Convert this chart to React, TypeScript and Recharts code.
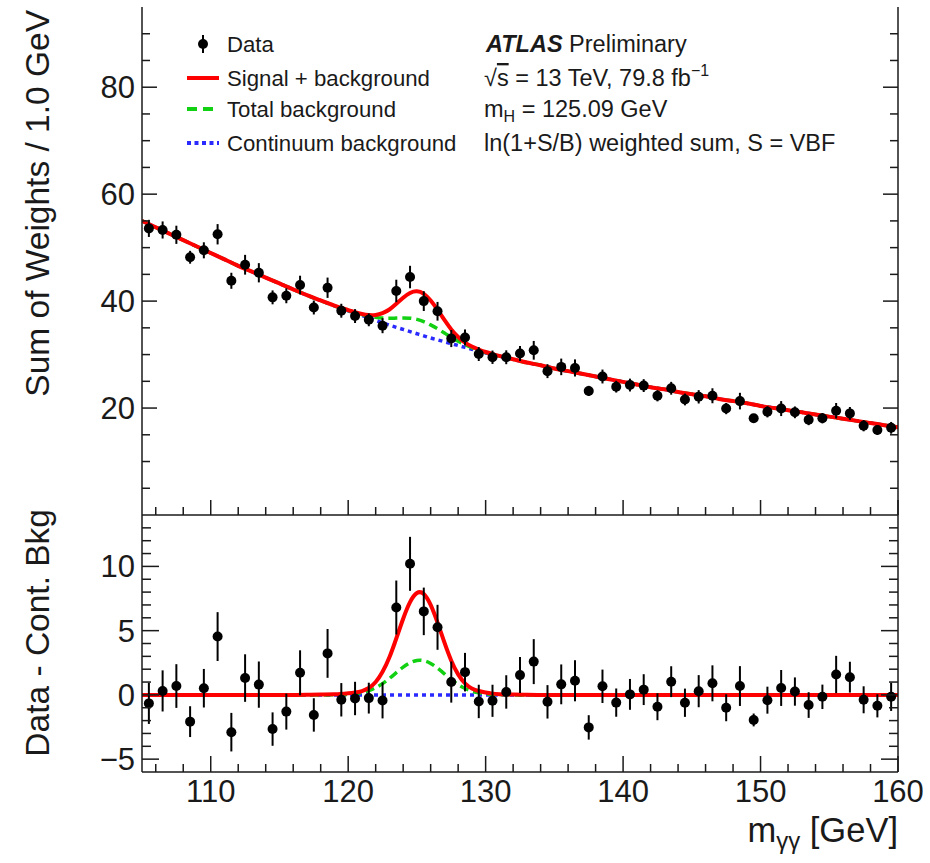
import React from 'react';
import { ComposedChart, Line, Scatter, ErrorBar, XAxis, YAxis } from 'recharts';

// measured bins (1 GeV wide)
const binCenters = [
  105.5, 106.5, 107.5, 108.5, 109.5, 110.5, 111.5, 112.5, 113.5, 114.5,
  115.5, 116.5, 117.5, 118.5, 119.5, 120.5, 121.5, 122.5, 123.5, 124.5,
  125.5, 126.5, 127.5, 128.5, 129.5, 130.5, 131.5, 132.5, 133.5, 134.5,
  135.5, 136.5, 137.5, 138.5, 139.5, 140.5, 141.5, 142.5, 143.5, 144.5,
  145.5, 146.5, 147.5, 148.5, 149.5, 150.5, 151.5, 152.5, 153.5, 154.5,
  155.5, 156.5, 157.5, 158.5, 159.5,
];
const sumOfWeights = [
  53.6, 53.3, 52.4, 48.2, 49.5, 52.5, 43.8, 46.8, 45.3, 40.7,
  41.0, 43.0, 38.8, 42.5, 38.2, 37.2, 36.5, 35.4, 41.9, 44.5,
  40.0, 38.1, 33.0, 33.2, 30.1, 29.5, 29.5, 30.2, 30.8, 26.9,
  27.7, 27.5, 23.2, 25.9, 24.0, 24.3, 24.2, 22.3, 23.7, 21.6,
  22.1, 22.3, 19.9, 21.3, 18.1, 19.3, 19.9, 19.2, 17.8, 18.1,
  19.5, 19.0, 16.7, 15.9, 16.3,
];
const dataMinusCont = [
  -0.66, 0.31, 0.69, -2.08, 0.52, 4.54, -2.9, 1.31, 0.8, -2.66,
  -1.3, 1.72, -1.56, 3.23, -0.38, -0.28, -0.25, -0.43, 6.8, 10.2,
  6.5, 5.26, 1.0, 1.77, -0.51, -0.46, 0.23, 1.54, 2.59, -0.54,
  0.82, 1.1, -2.53, 0.67, -0.6, 0.04, 0.41, -0.92, 1.03, -0.61,
  0.29, 0.9, -1.0, 0.69, -1.95, -0.41, 0.54, 0.26, -0.79, -0.15,
  1.59, 1.38, -0.38, -0.85, -0.15,
];
const statErrors = [
  1.6, 1.6, 1.7, 1.2, 1.5, 1.9, 1.5, 1.85, 1.8, 1.3,
  1.4, 1.75, 1.3, 1.9, 1.3, 1.3, 1.2, 1.4, 2.1, 2.1,
  1.85, 1.75, 1.6, 1.5, 1.3, 1.25, 1.3, 1.4, 1.75, 1.3,
  1.55, 1.6, 0.95, 1.3, 1.1, 1.2, 1.2, 1.05, 1.2, 1.1,
  1.25, 1.4, 1.05, 1.55, 0.5, 1.05, 1.4, 1.1, 1.0, 0.95,
  1.45, 1.2, 1.05, 0.9, 1.1,
];

// fitted curves
const fitMass = [
  105, 106, 107, 108, 109, 110, 111, 112, 113, 114, 115, 116, 117, 118,
  119, 119.5, 120, 120.5, 121, 121.5, 122, 122.5, 123, 123.5, 124, 124.5, 125,
  125.5, 126, 126.5, 127, 127.5, 128, 128.5, 129, 129.5, 130, 130.5, 131,
  132, 133, 134, 135, 136, 137, 138, 139, 140, 141, 142, 143, 144, 145, 146,
  147, 148, 149, 150, 151, 152, 153, 154, 155, 156, 157, 158, 159, 160,
];
const continuumFit = [
  55.0, 53.8, 52.6, 51.4, 50.2, 49.0, 47.8, 46.6, 45.5, 44.4, 43.3, 42.2, 41.1, 40.1,
  39.1, 38.65, 38.2, 37.75, 37.3, 36.85, 36.4, 35.95, 35.5, 35.1, 34.7, 34.3, 33.9,
  33.5, 33.1, 32.75, 32.4, 32.05, 31.7, 31.35, 31.0, 30.65, 30.3, 30.0, 29.7,
  29.1, 28.5, 28.0, 27.4, 26.9, 26.4, 25.9, 25.4, 24.9, 24.4, 23.9, 23.5, 23.0, 22.6, 22.2,
  21.7, 21.3, 20.9, 20.4, 20.0, 19.6, 19.2, 18.8, 18.4, 18.0, 17.6, 17.2, 16.8, 16.4,
];
// (signal + background) - continuum
const signalExcess = [
  0, 0, 0, 0, 0, 0, 0, 0, 0, 0, 0, 0, 0.01, 0.03,
  0.05, 0.08, 0.12, 0.18, 0.3, 0.54, 1.0, 1.8, 2.93, 4.39, 5.93, 7.22, 7.93,
  7.85, 7.0, 5.63, 4.08, 2.66, 1.6, 0.9, 0.5, 0.3, 0.18, 0.1, 0.06,
  0.03, 0.01, 0, 0, 0, 0, 0, 0, 0, 0, 0, 0, 0, 0, 0,
  0, 0, 0, 0, 0, 0, 0, 0, 0, 0, 0, 0, 0, 0,
];
// total background - continuum
const totalBkgExcess = [
  0, 0, 0, 0, 0, 0, 0, 0, 0, 0, 0, 0, 0, 0,
  0.01, 0.02, 0.04, 0.09, 0.18, 0.33, 0.56, 0.88, 1.28, 1.73, 2.16, 2.5, 2.68,
  2.66, 2.45, 2.08, 1.64, 1.19, 0.8, 0.5, 0.29, 0.16, 0.08, 0.04, 0.02,
  0, 0, 0, 0, 0, 0, 0, 0, 0, 0, 0, 0, 0, 0, 0,
  0, 0, 0, 0, 0, 0, 0, 0, 0, 0, 0, 0, 0, 0,
];

const xTicks = [106, 108, 110, 112, 114, 116, 118, 120, 122, 124, 126, 128, 130, 132,
  134, 136, 138, 140, 142, 144, 146, 148, 150, 152, 154, 156, 158, 160];
const xMajor = [110, 120, 130, 140, 150, 160];
const topYTicks = [5, 10, 15, 20, 25, 30, 35, 40, 45, 50, 55, 60, 65, 70, 75, 80, 85, 90];
const topYMajor = [20, 40, 60, 80];
const lowYTicks = [-5, -4, -3, -2, -1, 0, 1, 2, 3, 4, 5, 6, 7, 8, 9, 10, 11, 12, 13];
const lowYMajor = [-5, 0, 5, 10];

const FONT = '"Liberation Sans", Arial, Helvetica, sans-serif';
const INK = '#1a1a1a';
const RED = '#ff0000';
const GREEN = '#12d012';
const BLUE = '#2a2aff';

const topPoints = binCenters.map((x, i) => ({ x, y: sumOfWeights[i], err: statErrors[i] }));
const lowPoints = binCenters.map((x, i) => ({ x, y: dataMinusCont[i], err: statErrors[i] }));
const topCurves = fitMass.map((x, i) => ({
  x,
  cont: continuumFit[i],
  bkg: continuumFit[i] + totalBkgExcess[i],
  sb: continuumFit[i] + signalExcess[i],
}));
const lowCurves = fitMass.map((x, i) => ({ x, cont: 0, bkg: totalBkgExcess[i], sb: signalExcess[i] }));

const fmt = (v: number) => (v < 0 ? '\u2212' + Math.abs(v) : String(v));

// ROOT style ticks: drawn inwards, labels outside
function frameTick(side: string, majors: number[], labelled: number[], majorLen: number, minorLen: number) {
  return (props: any) => {
    const { x, y, payload } = props;
    const v = payload.value as number;
    const len = majors.includes(v) ? majorLen : minorLen;
    let x2 = x;
    let y2 = y;
    if (side === 'left') x2 = x + len;
    if (side === 'right') x2 = x - len;
    if (side === 'bottom') y2 = y - len;
    if (side === 'top') y2 = y + len;
    const show = labelled.includes(v);
    return (
      <g>
        <line x1={x} y1={y} x2={x2} y2={y2} stroke={INK} strokeWidth={1.5} />
        {show && side === 'left' && (
          <text x={x - 7} y={y + 11} textAnchor="end" fontSize={31} fontFamily={FONT} fill={INK}>
            {fmt(v)}
          </text>
        )}
        {show && side === 'bottom' && (
          <text x={x} y={y + 30} textAnchor="middle" fontSize={31} fontFamily={FONT} fill={INK}>
            {fmt(v)}
          </text>
        )}
      </g>
    );
  };
}

const dot = (props: any) => <circle cx={props.cx} cy={props.cy} r={5} fill="#000" />;
const frame = { stroke: INK, strokeWidth: 1.5 };

function Panel({ curves, points, yDomain, yTicks, yMajor, yLabels, xLabels, height, margin, xHeight, tl }: any) {
  return (
    <ComposedChart width={930} height={height} data={curves} margin={margin}>
      <XAxis xAxisId="b" dataKey="x" type="number" domain={[105, 160]} allowDataOverflow ticks={xTicks}
        interval={0} tickSize={0} tickMargin={0} tickLine={false} axisLine={frame} height={xHeight}
        tick={frameTick('bottom', xMajor, xLabels, tl.x[0], tl.x[1])} />
      <XAxis xAxisId="t" orientation="top" dataKey="x" type="number" domain={[105, 160]} allowDataOverflow
        ticks={xTicks} interval={0} tickSize={0} tickMargin={0} tickLine={false} axisLine={frame} height={0}
        tick={frameTick('top', xMajor, [], tl.x[0], tl.x[1])} />
      <YAxis yAxisId="l" type="number" domain={yDomain} allowDataOverflow ticks={yTicks} interval={0}
        tickSize={0} tickMargin={0} tickLine={false} axisLine={frame} width={142}
        tick={frameTick('left', yMajor, yLabels, tl.y[0], tl.y[1])} />
      <YAxis yAxisId="r" orientation="right" type="number" domain={yDomain} allowDataOverflow ticks={yTicks}
        interval={0} tickSize={0} tickMargin={0} tickLine={false} axisLine={frame} width={32}
        tick={frameTick('right', yMajor, [], tl.y[0], tl.y[1])} />
      <Line xAxisId="b" yAxisId="l" dataKey="cont" type="natural" stroke={BLUE} strokeWidth={3.5}
        strokeDasharray="4 4" dot={false} activeDot={false} isAnimationActive={false} />
      <Line xAxisId="b" yAxisId="l" dataKey="bkg" type="natural" stroke={GREEN} strokeWidth={3.5}
        strokeDasharray="9 5" dot={false} activeDot={false} isAnimationActive={false} />
      <Line xAxisId="b" yAxisId="l" dataKey="sb" type="natural" stroke={RED} strokeWidth={4}
        dot={false} activeDot={false} isAnimationActive={false} />
      <Scatter xAxisId="b" yAxisId="l" data={points} dataKey="y" shape={dot} isAnimationActive={false}>
        <ErrorBar dataKey="err" direction="y" width={0} stroke="#000" strokeWidth={2} />
      </Scatter>
    </ComposedChart>
  );
}

export default function App() {
  const txt = { fontFamily: FONT, fill: INK };
  return (
    <div style={{ position: 'absolute', left: 0, top: 0, width: 930, height: 863, background: '#fff', fontFamily: FONT }}>
      <div style={{ position: 'absolute', left: 0, top: 0 }}>
        <Panel curves={topCurves} points={topPoints} yDomain={[0, 95]} yTicks={topYTicks} yMajor={topYMajor}
          yLabels={topYMajor} xLabels={[]} height={520} margin={{ top: 7, right: 0, bottom: 0, left: 0 }}
          xHeight={5} tl={{ x: [15, 8], y: [15, 8] }} />
      </div>
      <div style={{ position: 'absolute', left: 0, top: 510 }}>
        <Panel curves={lowCurves} points={lowPoints} yDomain={[-6, 14]} yTicks={lowYTicks} yMajor={lowYMajor}
          yLabels={lowYMajor} xLabels={xMajor} height={353} margin={{ top: 5, right: 0, bottom: 0, left: 0 }}
          xHeight={91} tl={{ x: [16, 8], y: [17, 9] }} />
      </div>
      <svg width={930} height={863} style={{ position: 'absolute', left: 0, top: 0, pointerEvents: 'none' }}>
        <text transform="translate(49,10) rotate(-90)" textAnchor="end" fontSize={33.5} {...txt}>
          Sum of Weights / 1.0 GeV
        </text>
        <text transform="translate(49,509) rotate(-90)" textAnchor="end" fontSize={33.5} {...txt}>
          Data - Cont. Bkg
        </text>
        <text x={898} y={842} textAnchor="end" fontSize={34.5} {...txt}>
          <tspan>m</tspan>
          <tspan fontSize={24} dy={7}>γγ</tspan>
          <tspan dy={-7}> [GeV]</tspan>
        </text>

        {/* legend */}
        <line x1={203} y1={35} x2={203} y2={53} stroke="#000" strokeWidth={2} />
        <circle cx={203} cy={44} r={5} fill="#000" />
        <line x1={187} y1={78} x2={219} y2={78} stroke={RED} strokeWidth={4} />
        <line x1={187} y1={109} x2={219} y2={109} stroke={GREEN} strokeWidth={4} strokeDasharray="10 6" />
        <line x1={187} y1={143} x2={219} y2={143} stroke={BLUE} strokeWidth={4} strokeDasharray="4 3.5" />
        <text x={227} y={52} fontSize={22.2} {...txt}>Data</text>
        <text x={227} y={86} fontSize={22.2} {...txt}>Signal + background</text>
        <text x={227} y={117} fontSize={22.2} {...txt}>Total background</text>
        <text x={227} y={151} fontSize={22.2} {...txt}>Continuum background</text>

        <text x={486} y={52} fontSize={23.5} {...txt}>
          <tspan fontWeight="bold" fontStyle="italic">ATLAS</tspan>
          <tspan> Preliminary</tspan>
        </text>
        <text x={484} y={86} fontSize={23.5} {...txt}>
          <tspan>√</tspan>
          <tspan style={{ textDecoration: 'overline' }}>s</tspan>
          <tspan> = 13 TeV, 79.8 fb</tspan>
          <tspan fontSize={16} dy={-10}>−1</tspan>
        </text>
        <text x={484} y={117} fontSize={23.5} {...txt}>
          <tspan>m</tspan>
          <tspan fontSize={16} dy={5}>H</tspan>
          <tspan dy={-5}> = 125.09 GeV</tspan>
        </text>
        <text x={484} y={151} fontSize={23.5} {...txt}>ln(1+S/B) weighted sum, S = VBF</text>
      </svg>
    </div>
  );
}
